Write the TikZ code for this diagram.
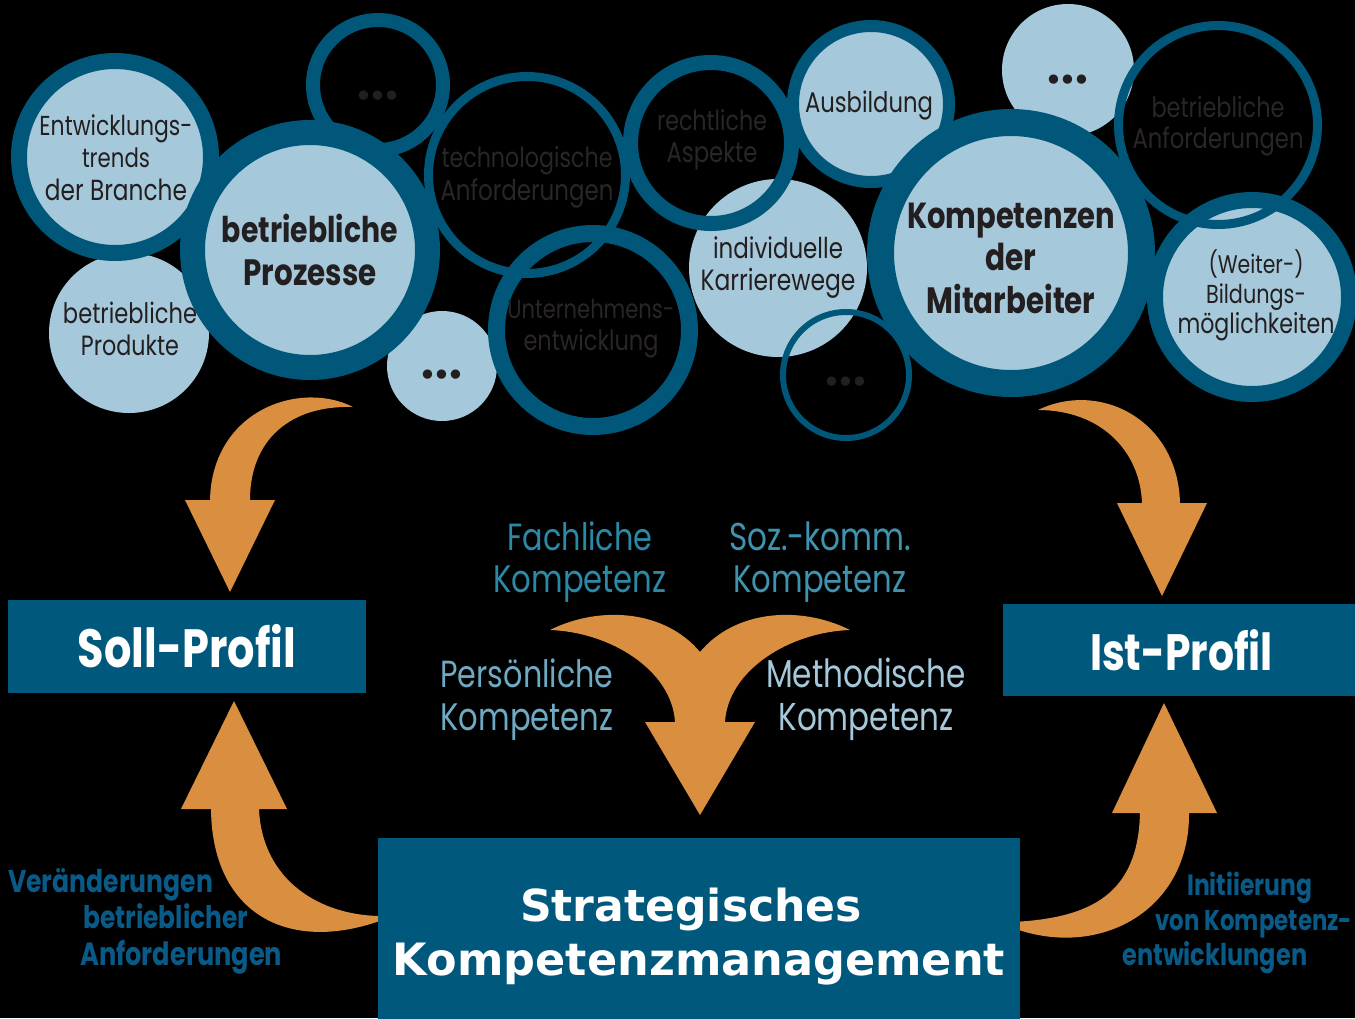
\documentclass[tikz,border=0pt]{standalone}
\usepackage{fontspec}
\usepackage{graphicx}
\setmainfont{Poppins}[FakeStretch=0.8]
\newfontfamily\boxfont{DejaVu Sans}
\newfontfamily\dotfont{DejaVu Sans}

\definecolor{ringblue}{HTML}{00577A}
\definecolor{lightblue}{HTML}{A5C8DA}
\definecolor{boxblue}{HTML}{00587C}
\definecolor{arrowfill}{HTML}{DA8E40}
\definecolor{ink}{HTML}{231F20}
\definecolor{dimink}{HTML}{2A2628}
\definecolor{fachc}{HTML}{2A8AA6}
\definecolor{sozc}{HTML}{3E94AF}
\definecolor{persc}{HTML}{6EAAC3}
\definecolor{methc}{HTML}{A5C8DA}
\definecolor{labelblue}{HTML}{0A5A87}

% one line of text stretched to a given width (in pt)
\newcommand\fw[2]{\resizebox{#1pt}{!}{#2}}
% centred / left aligned lines with a fixed baseline distance; baseline = first line
\newcommand\lns[2]{\vtop{\baselineskip=#1pt\lineskiplimit=-\maxdimen\lineskip=0pt\halign{\hfil##\hfil\cr#2\crcr}}}
\newcommand\lnsl[2]{\vtop{\baselineskip=#1pt\lineskiplimit=-\maxdimen\lineskip=0pt\halign{##\hfil\cr#2\crcr}}}
% three tightly set bullets
\newcommand\threedots{•\kern-4.5pt•\kern-4.5pt•}

\begin{document}
\begin{tikzpicture}[x=1pt,y=-1pt,
  disc/.style={circle, fill=lightblue, inner sep=0pt, minimum size=#1},
  ring/.style 2 args={circle, draw=ringblue, line width=#2, inner sep=0pt, minimum size=#1},
  ctext/.style={inner sep=0pt, anchor=base, text=ink, font=\fontsize{28.5}{32}\selectfont},
  dtext/.style={ctext, text=dimink},
  btext/.style={inner sep=0pt, anchor=base, text=ink, font=\bfseries\fontsize{36.8}{43}\selectfont},
  dotsn/.style={inner sep=0pt, text=ink, font=\dotfont\fontsize{32}{32}\selectfont},
  ktext/.style={inner sep=0pt, anchor=base, font=\fontsize{40}{43}\selectfont},
  ltext/.style={inner sep=0pt, anchor=base west, text=labelblue, font=\bfseries\fontsize{31}{36}\selectfont},
  pbox/.style={rectangle, fill=boxblue, inner sep=0pt, text=white, font=\bfseries\fontsize{55}{60}\selectfont},
  blockarrow/.style={fill=arrowfill}
]
\useasboundingbox (0,0) rectangle (1355,1018);
\fill[black] (0,0) rectangle (1355,1018);

% plain discs
\node[disc=160] (c2) at (129,333) {};
\node[disc=110] (c7) at (442,366) {};
\node[disc=178] (c10) at (778,268) {};
\node[disc=132] (c12) at (1068,70) {};
% filled rings
\node[ring={192}{16}, fill=lightblue] (c1) at (115,157) {};
\node[ring={156}{12}, fill=lightblue] (c9) at (871,104) {};
\node[ring={194}{16}, fill=lightblue] (c15) at (1252,297) {};
% open rings
\node[ring={130}{14}] (c4) at (378,85) {};
\node[ring={197}{9}] (c5) at (527,175) {};
\node[ring={193}{17}] (c6) at (593,330) {};
\node[ring={161}{15}] (c8) at (711,143) {};
\node[ring={126}{6}] (c11) at (846,375) {};
\node[ring={199}{9}] (c14) at (1218,125) {};
% the two central circles
\node[ring={235}{25}, fill=lightblue] (c3) at (310,250) {};
\node[ring={261}{27}, fill=lightblue] (c13) at (1011,253) {};

% circle labels
\node[ctext] (t1) at (116,135) {\lns{32.5}{\fw{153}{Entwicklungs-}\cr\fw{68}{trends}\cr\fw{142}{der Branche}}};
\node[ctext] (t2) at (130,323) {\lns{32}{\fw{134}{betriebliche}\cr\fw{98}{Produkte}}};
\node[btext] (t3) at (310,242) {\lns{43}{\fw{176}{betriebliche}\cr\fw{133}{Prozesse}}};
\node[dtext] (t5) at (527,167) {\lns{33}{\fw{171}{technologische}\cr\fw{173}{Anforderungen}}};
\node[dtext] (t6) at (591,318) {\lns{32}{\fw{167}{Unternehmens-}\cr\fw{135}{entwicklung}}};
\node[dtext] (t8) at (712,130) {\lns{32}{\fw{110}{rechtliche}\cr\fw{91}{Aspekte}}};
\node[ctext] (t9) at (869,112) {\fw{128}{Ausbildung}};
\node[ctext] (t10) at (778,258) {\lns{32}{\fw{130}{individuelle}\cr\fw{155}{Karrierewege}}};
\node[btext] (t13) at (1011,228) {\lns{42.5}{\fw{208}{Kompetenzen}\cr\fw{51}{der}\cr\fw{169}{Mitarbeiter}}};
\node[dtext] (t14) at (1218,117) {\lns{31}{\fw{133}{betriebliche}\cr\fw{171}{Anforderungen}}};
\node[ctext] (t15) at (1256,273) {\lns{30}{\fw{95}{(Weiter-)}\cr\fw{100}{Bildungs-}\cr\fw{157}{möglichkeiten}}};
\node[dotsn] (d4) at (378,99) {\threedots};
\node[dotsn] (d7) at (442,378) {\threedots};
\node[dotsn] (d11) at (846,385) {\threedots};
\node[dotsn] (d12) at (1068,83) {\threedots};

% block arrows
\fill[blockarrow] (185,500) -- (230,592) -- (275,500) -- (250,500)
  .. controls (250,440) and (290,405) .. (353,407)
  .. controls (300,380) and (212,410) .. (210,500) -- cycle;
\fill[blockarrow] (1117,503) -- (1162,596) -- (1207,503) -- (1180,503)
  .. controls (1178,420) and (1100,380) .. (1038,410)
  .. controls (1100,410) and (1140,450) .. (1142,503) -- cycle;
\fill[blockarrow] (181,809) -- (234,701) -- (287,809) -- (259,809)
  .. controls (262,880) and (320,917) .. (385,916) -- (385,919)
  .. controls (290,955) and (212,915) .. (211,809) -- cycle;
\fill[blockarrow] (1112,813) -- (1164,703) -- (1217,813) -- (1189,813)
  .. controls (1190,910) and (1100,960) .. (1013,928) -- (1013,922)
  .. controls (1090,918) and (1138,895) .. (1140,813) -- cycle;
\fill[blockarrow] (645,722) -- (700,815) -- (755,722) -- (725,722)
  .. controls (728,670) and (790,632) .. (850,630)
  .. controls (800,605) and (735,610) .. (700,652)
  .. controls (665,610) and (600,605) .. (550,630)
  .. controls (610,632) and (672,670) .. (675,722) -- cycle;

% profile boxes and the management box
\node[pbox, minimum width=358, minimum height=93] (soll) at (187,646.5) {\fw{218}{Soll-Profil}};
\node[pbox, minimum width=357, minimum height=92] (ist) at (1181.5,650) {\fw{183}{Ist-Profil}};
\node[pbox, minimum width=642, minimum height=184] (strat) at (699,930) {};
\node[inner sep=0pt, anchor=base, text=white, font=\boxfont\bfseries\fontsize{44}{54}\selectfont] (stt) at (699,921)
  {\lns{54}{\fw{342}{Strategisches}\kern16pt\cr\fw{612}{Kompetenzmanagement}}};

% competence areas
\node[ktext, text=fachc] (fach) at (580,550) {\lns{42}{\fw{145}{Fachliche}\cr\fw{173}{Kompetenz}}};
\node[ktext, text=sozc] (soz) at (820,550) {\lns{42}{\fw{182}{Soz.-komm.}\cr\fw{173}{Kompetenz}}};
\node[ktext, text=persc] (pers) at (527,687) {\lns{43}{\fw{173}{Persönliche}\cr\fw{173}{Kompetenz}}};
\node[ktext, text=methc] (meth) at (866,687) {\lns{43}{\fw{200}{Methodische}\cr\fw{175}{Kompetenz}}};

% side labels
\node[ltext] (ver) at (8,892) {\lnsl{36.5}{\fw{205}{Veränderungen}\cr\kern75pt\fw{165}{betrieblicher}\cr\kern72pt\fw{202}{Anforderungen}}};
\node[ltext] (init) at (1122,895) {\lnsl{35}{\kern65pt\fw{125}{Initiierung}\cr\kern33pt\fw{197}{von Kompetenz-}\cr\fw{185}{entwicklungen}}};
\end{tikzpicture}
\end{document}
